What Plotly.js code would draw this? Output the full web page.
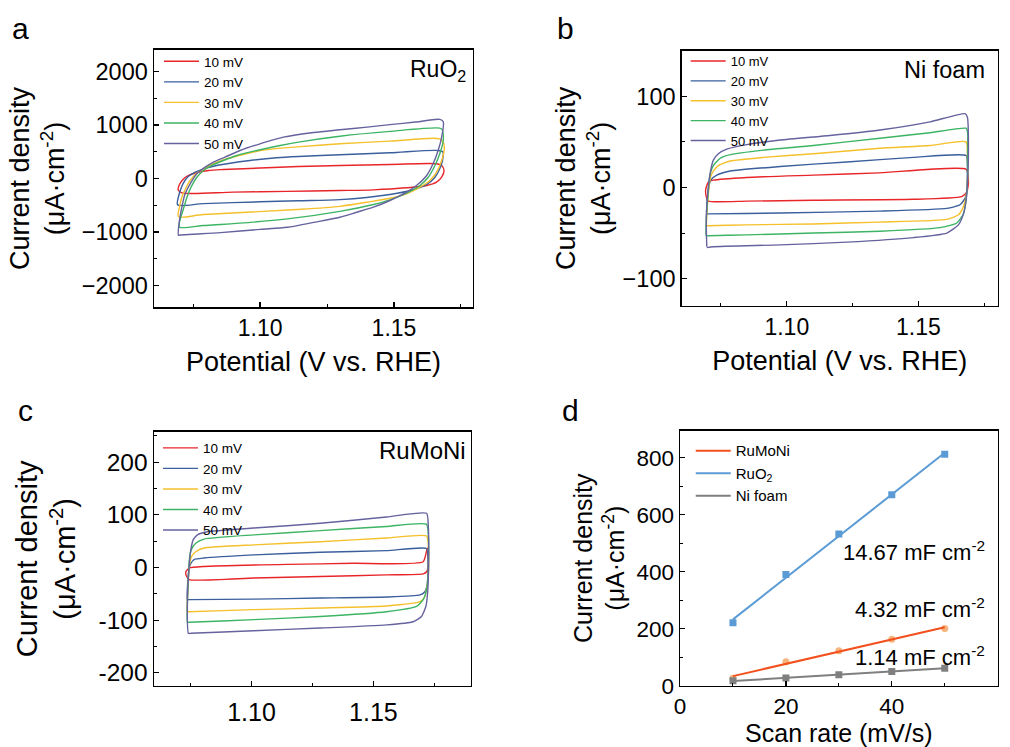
<!DOCTYPE html>
<html><head><meta charset="utf-8">
<script src="https://cdn.plot.ly/plotly-3.0.1.min.js"></script>
<style>html,body{margin:0;padding:0;background:#fff;} #chart{width:1010px;height:747px;}</style>
</head><body><div id="chart"></div>
<script>
// ---------- shared ----------
const scanLabels = ['10 mV', '20 mV', '30 mV', '40 mV', '50 mV'];
const cvColors = ['#e8262a', '#3a5f9c', '#f5c02c', '#3cb463', '#66629e'];

// ---------- panel a : RuO2 (E in V vs RHE, j in uA cm-2) ----------
const a10E = [1.0708,1.0694,1.0699,1.0712,1.0733,1.0764,1.0807,1.0863,1.1000,1.1143,1.1298,1.1485,1.1659,1.1678,1.1687,1.1678,1.1659,1.1622,1.1547,1.1423,1.1298,1.1100,1.0900,1.0708];
const a10J = [-268,-212,-112,-19,56,112,150,168,195,224,243,262,275,243,150,24,-69,-131,-174,-212,-225,-240,-255,-268];
const a20E = [1.0692,1.0695,1.0702,1.0712,1.0729,1.0758,1.0789,1.0838,1.0888,1.0963,1.1062,1.1143,1.1298,1.1485,1.1665,1.1683,1.1681,1.1671,1.1653,1.1622,1.1572,1.1485,1.1298,1.1143,1.1000,1.0789,1.0692];
const a20J = [-490,-349,-224,-99,24,118,181,243,286,336,387,411,443,480,523,495,336,181,24,-112,-211,-299,-395,-415,-435,-470,-490];
const a30E = [1.0695,1.0699,1.0708,1.0724,1.0739,1.0761,1.0789,1.0826,1.0876,1.0938,1.1012,1.1137,1.1298,1.1485,1.1671,1.1684,1.1688,1.1678,1.1659,1.1634,1.1597,1.1547,1.1485,1.1398,1.1298,1.1137,1.0789,1.0695];
const a30J = [-710,-536,-349,-163,-37,88,181,275,368,449,530,590,648,698,741,679,555,336,119,-37,-163,-286,-368,-443,-520,-580,-673,-710];
const a40E = [1.0699,1.0704,1.0712,1.0727,1.0742,1.0764,1.0789,1.0820,1.0863,1.0913,1.0988,1.1075,1.1143,1.1298,1.1485,1.1671,1.1680,1.1684,1.1671,1.1653,1.1628,1.1597,1.1547,1.1485,1.1423,1.1298,1.1102,1.0853,1.0789,1.0699];
const a40J = [-905,-723,-598,-349,-163,24,150,243,336,430,523,617,680,790,880,940,910,710,461,243,24,-131,-274,-399,-486,-615,-754,-860,-878,-905];
const a50E = [1.0695,1.0699,1.0708,1.0720,1.0739,1.0764,1.0795,1.0826,1.0869,1.0925,1.1000,1.1087,1.1200,1.1298,1.1400,1.1485,1.1580,1.1671,1.1684,1.1678,1.1665,1.1646,1.1622,1.1584,1.1547,1.1485,1.1423,1.1361,1.1298,1.1200,1.1102,1.1000,1.0853,1.0750,1.0700,1.0695];
const a50J = [-1060,-785,-536,-286,-99,88,211,305,398,523,648,772,860,910,960,1005,1055,1103,1060,772,523,275,56,-131,-256,-411,-536,-630,-723,-820,-910,-950,-1010,-1040,-1055,-1060];

// ---------- panel b : Ni foam ----------
const b10E = [1.0692,1.0702,1.0721,1.0848,1.1101,1.1354,1.1681,1.1690,1.1684,1.1664,1.1481,1.1101,1.0848,1.0702,1.0694,1.0692];
const b10J = [-2,6,8,11,13.5,16,20,6,-5,-10,-13,-14,-15,-15,-10,-2];
const b20E = [1.0696,1.0702,1.0711,1.0734,1.0785,1.0975,1.1228,1.1481,1.1681,1.1686,1.1684,1.1677,1.1658,1.1608,1.1354,1.0975,1.0702,1.0696];
const b20J = [-29,-3,8,13.5,18,23,28,33,35,23,-3,-12,-19,-23,-26,-28,-29,-29];
const b30E = [1.0696,1.0702,1.0711,1.0721,1.0740,1.0785,1.0911,1.1101,1.1354,1.1544,1.1681,1.1686,1.1686,1.1681,1.1671,1.1652,1.1608,1.1354,1.1101,1.0848,1.0702,1.0696];
const b30J = [-42,-7,12,18,24,29,33,37,43,46,50,34,4,-10,-21,-30,-35,-38,-40,-41,-42,-42];
const b40E = [1.0694,1.0699,1.0709,1.0721,1.0747,1.0785,1.0911,1.1101,1.1354,1.1544,1.1681,1.1687,1.1687,1.1686,1.1681,1.1671,1.1646,1.1582,1.1354,1.1101,1.0848,1.0702,1.0694];
const b40J = [-53,-14,15,24,32,36,41,46,54,60,65,60,41,4,-14,-29,-39,-44,-48,-50,-52,-53,-53];
const b50E = [1.0696,1.0694,1.0702,1.0711,1.0721,1.0740,1.0772,1.0848,1.0975,1.1164,1.1354,1.1544,1.1677,1.1686,1.1690,1.1686,1.1681,1.1671,1.1652,1.1608,1.1481,1.1228,1.0975,1.0721,1.0696];
const b50J = [-65,-32,1,19,30,37,42,47,52,57,63,72,81,77,41,4,-14,-29,-41,-50,-55,-60,-63,-65,-66];

// ---------- panel c : RuMoNi ----------
const c10E = [1.0731,1.0744,1.0805,1.1146,1.1418,1.1704,1.1721,1.1725,1.1718,1.1704,1.1554,1.1282,1.1009,1.0744,1.0731,1.0731];
const c10J = [-8,-1,2,6,8,11,37,2,-8,-12,-14,-17,-20,-23,-14,-8];
const c20E = [1.0737,1.0740,1.0748,1.0764,1.0805,1.1009,1.1282,1.1554,1.1718,1.1724,1.1721,1.1711,1.1691,1.1554,1.1282,1.1009,1.0744,1.0737];
const c20J = [-61,-17,5,15,18,24,29,32,36,15,-30,-46,-52,-56,-58,-60,-61,-61];
const c30E = [1.0737,1.0740,1.0745,1.0753,1.0771,1.0805,1.1009,1.1282,1.1554,1.1718,1.1726,1.1725,1.1711,1.1691,1.1554,1.1282,1.1009,1.0744,1.0737];
const c30J = [-84,-30,2,20,30,37,43,49,56,60,34,-17,-55,-65,-73,-77,-80,-84,-84];
const c40E = [1.0737,1.0740,1.0745,1.0753,1.0771,1.0805,1.1009,1.1282,1.1554,1.1718,1.1726,1.1725,1.1718,1.1704,1.1677,1.1554,1.1282,1.1009,1.0744,1.0737];
const c40J = [-104,-30,15,34,46,54,62,70,78,82,53,-11,-42,-61,-74,-84,-93,-99,-104,-104];
const c50E = [1.0741,1.0737,1.0744,1.0751,1.0761,1.0778,1.0818,1.1009,1.1282,1.1554,1.1718,1.1725,1.1726,1.1722,1.1715,1.1697,1.1663,1.1554,1.1282,1.1009,1.0751,1.0741];
const c50J = [-125,-61,2,34,53,62,68,75,84,96,103,78,2,-49,-74,-93,-103,-109,-115,-120,-125,-125];

// ---------- panel d : double-layer capacitance ----------
const scanRate = [10, 20, 30, 40, 50];
const dRuMoNi = [26, 84, 123, 163, 201];
const dRuO2 = [221, 390, 532, 670, 812];
const dNiFoam = [17, 27, 38, 50, 61];
const dNames = ['RuMoNi', 'RuO<sub>2</sub>', 'Ni foam'];
const dCdl = ['4.32', '14.67', '1.14'];

// ---------- build traces ----------
const FONT = 'Arial, "Liberation Sans", sans-serif';
const traces = [];
function addCV(Es, Js, xa, ya, leg, smooth) {
  for (let i = 0; i < Es.length; i++) {
    traces.push({
      x: Es[i], y: Js[i], type: 'scatter', mode: 'lines', name: scanLabels[i],
      xaxis: xa, yaxis: ya, legend: leg,
      line: {color: cvColors[i], width: 1.4, shape: 'spline', smoothing: smooth}
    });
  }
}
addCV([a10E,a20E,a30E,a40E,a50E], [a10J,a20J,a30J,a40J,a50J], 'x', 'y', 'legend', 0.8);
addCV([b10E,b20E,b30E,b40E,b50E], [b10J,b20J,b30J,b40J,b50J], 'x2', 'y2', 'legend2', 0.5);
addCV([c10E,c20E,c30E,c40E,c50E], [c10J,c20J,c30J,c40J,c50J], 'x3', 'y3', 'legend3', 0.5);

function linFit(xs, ys) {
  const n = xs.length;
  const mx = xs.reduce((s, v) => s + v, 0) / n;
  const my = ys.reduce((s, v) => s + v, 0) / n;
  let sxy = 0, sxx = 0;
  for (let i = 0; i < n; i++) { sxy += (xs[i]-mx)*(ys[i]-my); sxx += (xs[i]-mx)*(xs[i]-mx); }
  const k = sxy / sxx, b = my - k*mx;
  return xs.map(v => k*v + b);
}
const dSeries = [dRuMoNi, dRuO2, dNiFoam];
const dLineColors = ['#f2501c', '#5b9bd5', '#7f7f7f'];
const dMarkColors = ['#f6b47c', '#5b9bd5', '#808080'];
const dSymbols = ['circle', 'square', 'square'];
for (let i = 0; i < 3; i++) {
  traces.push({
    x: scanRate, y: dSeries[i], type: 'scatter', mode: 'markers', showlegend: false,
    xaxis: 'x4', yaxis: 'y4', hoverinfo: 'skip',
    marker: {symbol: dSymbols[i], size: 7, color: dMarkColors[i]}
  });
}
for (let i = 0; i < 3; i++) {
  traces.push({
    x: scanRate, y: linFit(scanRate, dSeries[i]), type: 'scatter', mode: 'lines',
    name: dNames[i], xaxis: 'x4', yaxis: 'y4', legend: 'legend4',
    line: {color: dLineColors[i], width: 2}
  });
}

// ---------- layout ----------
function axis(o) {
  const base = {
    showline: true, linecolor: '#000', linewidth: 1.5, mirror: true,
    ticks: 'inside', ticklen: 5, tickwidth: 1.2, tickcolor: '#000',
    showgrid: false, zeroline: false, automargin: false,
    tickfont: {family: FONT, size: 22, color: '#000'}
  };
  return Object.assign(base, o);
}
function minor(dt, t0) { return {dtick: dt, tick0: t0, ticks: 'inside', ticklen: 3, tickwidth: 1, tickcolor: '#000'}; }
function ttl(text, size, standoff) { return {text: text, font: {family: FONT, size: size, color: '#000'}, standoff: standoff}; }
function tf(size) { return {family: FONT, size: size, color: '#000'}; }
const yTitle = 'Current density<br>(μA·cm<sup>-2</sup>)';
const xTitle = 'Potential (V vs. RHE)';

function legendAt(x, y, size) {
  return {x: x, y: y, xanchor: 'left', yanchor: 'top', bgcolor: 'rgba(0,0,0,0)',
    font: {family: FONT, size: size, color: '#000'}, itemwidth: 35, tracegroupgap: 0};
}
function ann(text, x, y, size, xanchor) {
  return {text: text, x: x, y: y, xref: 'paper', yref: 'paper', showarrow: false,
    xanchor: xanchor, yanchor: 'middle', font: {family: FONT, size: size, color: '#000'}};
}

const layout = {
  width: 1010, height: 747, margin: {l: 0, r: 0, t: 0, b: 0},
  paper_bgcolor: '#fff', plot_bgcolor: '#fff',
  font: {family: FONT, color: '#000'},
  xaxis: axis({domain: [0.1525, 0.4683], range: [1.0604, 1.1795], anchor: 'y', tick0: 1.10, dtick: 0.05, tickformat: '.2f', tickfont: tf(23), minor: minor(0.025, 1.10), title: ttl(xTitle, 27, 12)}),
  yaxis: axis({domain: [0.5890, 0.9331], range: [-2400, 2400], anchor: 'x', dtick: 1000, tickfont: tf(23.5), minor: minor(500, 0), title: ttl(yTitle, 27, 9)}),
  xaxis2: axis({domain: [0.6750, 0.9878], range: [1.0601, 1.1801], anchor: 'y2', tick0: 1.10, dtick: 0.05, tickformat: '.2f', tickfont: tf(23), minor: minor(0.025, 1.10), title: ttl(xTitle, 27, 12)}),
  yaxis2: axis({domain: [0.5904, 0.9321], range: [-130, 150], anchor: 'x2', dtick: 100, tickfont: tf(23.5), minor: minor(50, 0), title: ttl(yTitle, 27, 4)}),
  xaxis3: axis({domain: [0.1525, 0.4663], range: [1.06, 1.19], anchor: 'y3', tick0: 1.10, dtick: 0.05, tickformat: '.2f', tickfont: tf(25), ticklabelstandoff: 4, minor: minor(0.025, 1.10)}),
  yaxis3: axis({domain: [0.0817, 0.4221], range: [-225, 258], anchor: 'x3', tickvals: [-200,-100,0,100,200], ticktext: ['-200','-100','0','100','200'], tickfont: tf(24.5), minor: minor(50, 0), title: ttl(yTitle, 29, 14)}),
  xaxis4: axis({domain: [0.6733, 0.9878], range: [0, 60], anchor: 'y4', dtick: 20, tickfont: tf(22.5), minor: minor(10, 0), title: ttl('Scan rate (mV/s)', 25, 6)}),
  yaxis4: axis({domain: [0.0821, 0.4234], range: [0, 895], anchor: 'x4', dtick: 200, tickfont: tf(22.5), minor: minor(100, 0), title: ttl(yTitle, 25, 4)}),
  legend: legendAt(0.1574, 0.9384, 13.5),
  legend2: legendAt(0.6789, 0.9384, 13),
  legend3: legendAt(0.1564, 0.4209, 13.5),
  legend4: legendAt(0.6839, 0.4185, 15),
  annotations: [
    ann('a', 0.0099, 0.9612, 30, 'left'),
    ann('b', 0.5495, 0.9612, 30, 'left'),
    ann('c', 0.0158, 0.4498, 30, 'left'),
    ann('d', 0.5545, 0.4498, 30, 'left'),
    ann('RuO<sub>2</sub>', 0.4634, 0.9050, 23, 'right'),
    ann('Ni foam', 0.9772, 0.9063, 23.5, 'right'),
    ann('RuMoNi', 0.4634, 0.3963, 24, 'right'),
    ann(dCdl[1] + ' mF cm<sup>-2</sup>', 0.9772, 0.2624, 22, 'right'),
    ann(dCdl[0] + ' mF cm<sup>-2</sup>', 0.9772, 0.1861, 22, 'right'),
    ann(dCdl[2] + ' mF cm<sup>-2</sup>', 0.9772, 0.1218, 22, 'right')
  ]
};

Plotly.newPlot('chart', traces, layout, {staticPlot: true, displayModeBar: false});
</script>
</body></html>
